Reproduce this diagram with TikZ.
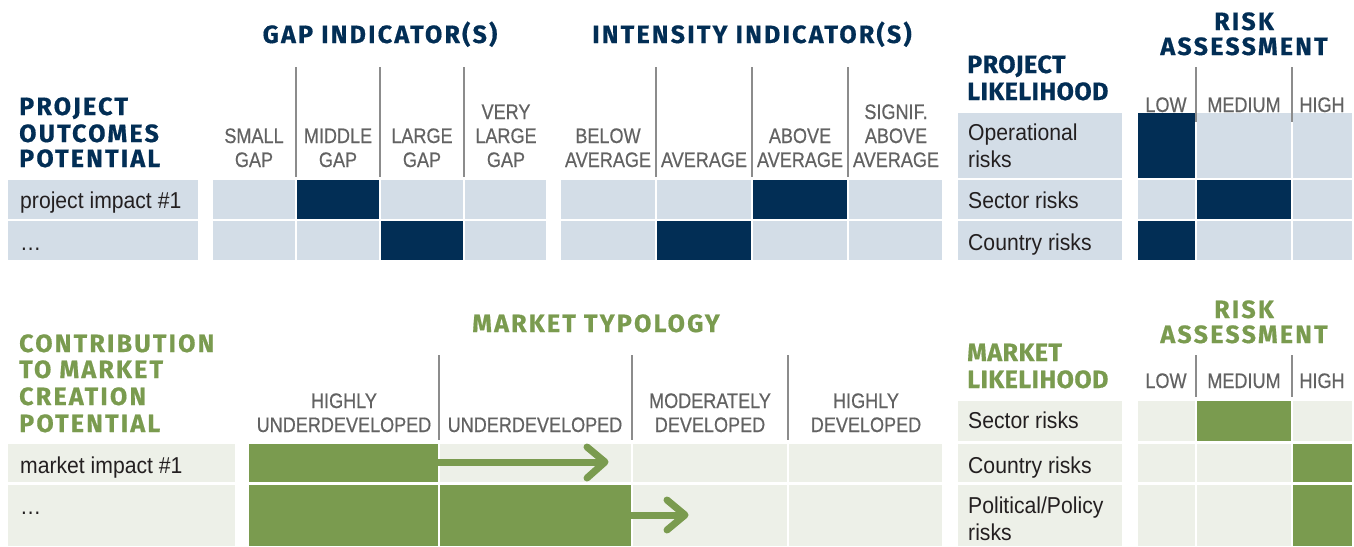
\documentclass[tikz,border=0pt]{standalone}
\usepackage{fontspec}
\setmainfont{Liberation Sans}
\newfontfamily\ttlfont[LetterSpace=9, BoldFeatures={FakeBold=0.6}]{Fira Sans}
\newfontfamily\ttlnarrow[LetterSpace=2, BoldFeatures={FakeBold=0.6}]{Fira Sans}
\newfontfamily\hdrfont[FakeStretch=0.86, FakeBold=0.5]{Liberation Sans}
\newfontfamily\cellfont[FakeStretch=0.92]{Liberation Sans}
\definecolor{navy}{HTML}{022E55}
\definecolor{lblue}{HTML}{D3DDE7}
\definecolor{mgreen}{HTML}{7A9B4F}
\definecolor{lgreen}{HTML}{EDF0E8}
\definecolor{hgray}{HTML}{626262}
\definecolor{sgray}{HTML}{8C8C8C}
\definecolor{ctext}{HTML}{231F20}
\begin{document}
\begin{tikzpicture}[x=1pt,y=-1pt,
  ttl/.style={font=\ttlfont\bfseries\fontsize{25}{27}\selectfont, inner sep=0pt},
  narrow/.style={font=\ttlnarrow\bfseries\fontsize{25}{27}\selectfont},
  navyttl/.style={ttl, text=navy},
  greenttl/.style={ttl, text=mgreen},
  hdr/.style={font=\hdrfont\fontsize{21}{24}\selectfont, text=hgray, inner sep=0pt, anchor=base},
  celltxt/.style={font=\cellfont\fontsize{23}{27}\selectfont, text=ctext, inner sep=0pt, anchor=base west},
  sep/.style={draw=sgray, line width=2pt},
  arrowline/.style={draw=mgreen, line width=7pt},
  arrowhead/.style={draw=mgreen, line width=7pt, line cap=round, line join=round}]
\useasboundingbox (0,0) rectangle (1354,546);
\fill[white] (0,0) rectangle (1354,546);

% ================= TOP =================
\fill[lblue] (8,180) rectangle (198,219);
\fill[lblue] (8,221) rectangle (198,260);
\foreach \xa/\xb in {213/295,297/379,381/463,465/546,561/655,657/751,753/847,849/942,1138/1195,1197/1291,1293/1352}{
  \fill[lblue] (\xa,180) rectangle (\xb,219);
  \fill[lblue] (\xa,221) rectangle (\xb,260);
}
\foreach \xa/\xb in {1138/1195,1197/1291,1293/1352}{
  \fill[lblue] (\xa,113) rectangle (\xb,178);
}
\fill[lblue] (958,113) rectangle (1122,178);
\fill[lblue] (958,180) rectangle (1122,219);
\fill[lblue] (958,221) rectangle (1122,260);
\fill[navy] (297,180) rectangle (379,219);
\fill[navy] (381,221) rectangle (463,260);
\fill[navy] (753,180) rectangle (847,219);
\fill[navy] (657,221) rectangle (751,260);
\fill[navy] (1138,113) rectangle (1195,178);
\fill[navy] (1197,180) rectangle (1291,219);
\fill[navy] (1138,221) rectangle (1195,260);
\foreach \x in {296,380,464,656,752,848}{\draw[sep] (\x,67) -- (\x,177);}
\foreach \x in {1196,1292}{\draw[sep] (\x,67) -- (\x,122);}

\node[navyttl, anchor=base] (tgap) at (380,43) {GAP INDICATOR(S)};
\node[navyttl, anchor=base] (tint) at (752,43) {INTENSITY INDICATOR(S)};
\node[navyttl, anchor=base] (tra1) at (1244,30) {RISK};
\node[navyttl, anchor=base] (tra2) at (1244,55) {ASSESSMENT};
\node[navyttl, narrow, anchor=base west] (tpl1) at (967,73) {PROJECT};
\node[navyttl, narrow, anchor=base west] (tpl2) at (967,100) {LIKELIHOOD};
\node[navyttl, anchor=base west] (tpo1) at (19,115) {PROJECT};
\node[navyttl, anchor=base west] (tpo2) at (19,142) {OUTCOMES};
\node[navyttl, anchor=base west] (tpo3) at (19,167) {POTENTIAL};

\node[hdr] (g1a) at (254,143) {SMALL};
\node[hdr] (g1b) at (254,167) {GAP};
\node[hdr] (g2a) at (338,143) {MIDDLE};
\node[hdr] (g2b) at (338,167) {GAP};
\node[hdr] (g3a) at (422,143) {LARGE};
\node[hdr] (g3b) at (422,167) {GAP};
\node[hdr] (g4a) at (506,119) {VERY};
\node[hdr] (g4b) at (506,143) {LARGE};
\node[hdr] (g4c) at (506,167) {GAP};
\node[hdr] (i1a) at (608,143) {BELOW};
\node[hdr] (i1b) at (608,167) {AVERAGE};
\node[hdr] (i2a) at (704,167) {AVERAGE};
\node[hdr] (i3a) at (800,143) {ABOVE};
\node[hdr] (i3b) at (800,167) {AVERAGE};
\node[hdr] (i4a) at (896,119) {SIGNIF.};
\node[hdr] (i4b) at (896,143) {ABOVE};
\node[hdr] (i4c) at (896,167) {AVERAGE};
\node[hdr] (r1) at (1166,112) {LOW};
\node[hdr] (r2) at (1244,112) {MEDIUM};
\node[hdr] (r3) at (1322,112) {HIGH};

\node[celltxt] (c1) at (20,208) {project impact \#1};
\node[celltxt] (c2) at (20,250) {…};
\node[celltxt] (c3) at (968,140) {Operational};
\node[celltxt] (c4) at (968,167) {risks};
\node[celltxt] (c5) at (968,208) {Sector risks};
\node[celltxt] (c6) at (968,250) {Country risks};

% ================= BOTTOM =================
\fill[lgreen] (8,444) rectangle (235,482);
\fill[lgreen] (8,485) rectangle (235,546);
\foreach \xa/\xb in {249/438,440/631,633/787,789/942,1138/1195,1197/1291,1293/1352}{
  \fill[lgreen] (\xa,444) rectangle (\xb,482);
  \fill[lgreen] (\xa,485) rectangle (\xb,546);
}
\foreach \xa/\xb in {1138/1195,1197/1291,1293/1352}{
  \fill[lgreen] (\xa,401) rectangle (\xb,441);
}
\fill[lgreen] (958,401) rectangle (1122,441);
\fill[lgreen] (958,444) rectangle (1122,482);
\fill[lgreen] (958,485) rectangle (1122,546);
\fill[mgreen] (249,444) rectangle (438,482);
\fill[mgreen] (249,485) rectangle (438,546);
\fill[mgreen] (440,485) rectangle (631,546);
\fill[mgreen] (1197,401) rectangle (1291,441);
\fill[mgreen] (1293,444) rectangle (1352,482);
\fill[mgreen] (1293,485) rectangle (1352,546);
\foreach \x in {439,632,788}{\draw[sep] (\x,355) -- (\x,440);}
\foreach \x in {1196,1292}{\draw[sep] (\x,355) -- (\x,397);}

\coordinate (a1s) at (437,462);
\coordinate (a1e) at (603,462);
\coordinate (a1t) at (605,462);
\coordinate (a1u) at (587,447);
\coordinate (a1d) at (587,478);
\draw[arrowline] (a1s) -- (a1e);
\draw[arrowhead] (a1u) -- (a1t) -- (a1d);
\coordinate (a2s) at (630,515);
\coordinate (a2e) at (683,515);
\coordinate (a2t) at (685,515);
\coordinate (a2u) at (667,500);
\coordinate (a2d) at (667,530);
\draw[arrowline] (a2s) -- (a2e);
\draw[arrowhead] (a2u) -- (a2t) -- (a2d);

\node[greenttl, anchor=base] (tmt) at (596,332) {MARKET TYPOLOGY};
\node[greenttl, anchor=base] (trb1) at (1244,318) {RISK};
\node[greenttl, anchor=base] (trb2) at (1244,343) {ASSESSMENT};
\node[greenttl, narrow, anchor=base west] (tml1) at (967,361) {MARKET};
\node[greenttl, narrow, anchor=base west] (tml2) at (967,388) {LIKELIHOOD};
\node[greenttl, anchor=base west] (tcm1) at (19,352) {CONTRIBUTION};
\node[greenttl, anchor=base west] (tcm2) at (19,378) {TO MARKET};
\node[greenttl, anchor=base west] (tcm3) at (19,405) {CREATION};
\node[greenttl, anchor=base west] (tcm4) at (19,432) {POTENTIAL};

\node[hdr] (m1a) at (344,408) {HIGHLY};
\node[hdr] (m1b) at (344,432) {UNDERDEVELOPED};
\node[hdr] (m2a) at (535,432) {UNDERDEVELOPED};
\node[hdr] (m3a) at (710,408) {MODERATELY};
\node[hdr] (m3b) at (710,432) {DEVELOPED};
\node[hdr] (m4a) at (866,408) {HIGHLY};
\node[hdr] (m4b) at (866,432) {DEVELOPED};
\node[hdr] (rb1) at (1166,388) {LOW};
\node[hdr] (rb2) at (1244,388) {MEDIUM};
\node[hdr] (rb3) at (1322,388) {HIGH};

\node[celltxt] (d1) at (20,473) {market impact \#1};
\node[celltxt] (d2) at (20,514) {…};
\node[celltxt] (d3) at (968,428) {Sector risks};
\node[celltxt] (d4) at (968,473) {Country risks};
\node[celltxt] (d5) at (968,513) {Political/Policy};
\node[celltxt] (d6) at (968,540) {risks};
\end{tikzpicture}
\end{document}
